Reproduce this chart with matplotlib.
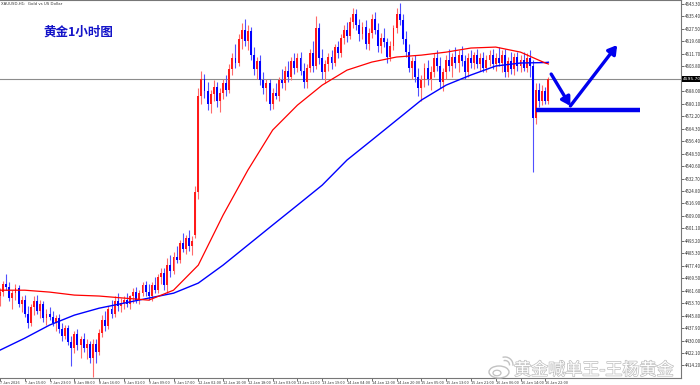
import matplotlib
matplotlib.use('Agg')
import matplotlib.pyplot as plt
import matplotlib.patheffects as pe
from matplotlib.patches import Ellipse, Arc
import numpy as np

plt.rcParams['font.family'] = ['Noto Sans CJK SC', 'DejaVu Sans']

x_labels = ["7 Jan 2026", "7 Jan 15:00", "7 Jan 23:00", "8 Jan 08:00", "8 Jan 16:00",
            "9 Jan 01:00", "9 Jan 09:00", "9 Jan 17:00", "12 Jan 02:00", "12 Jan 10:00",
            "12 Jan 18:00", "13 Jan 03:00", "13 Jan 11:00", "13 Jan 19:00", "14 Jan 04:00",
            "14 Jan 12:00", "14 Jan 20:00", "15 Jan 05:00", "15 Jan 13:00", "15 Jan 21:00",
            "16 Jan 06:00", "16 Jan 14:00", "16 Jan 22:00"]

y_ticks = [4643.30, 4635.40, 4627.50, 4619.60, 4611.70, 4603.80, 4595.90, 4588.00,
           4580.10, 4572.20, 4564.30, 4556.40, 4548.50, 4540.60, 4532.70, 4524.80,
           4516.90, 4509.00, 4501.10, 4493.20, 4485.30, 4477.40, 4469.50, 4461.60,
           4453.70, 4445.80, 4437.90, 4430.00, 4422.10, 4414.20]

opens = [4458, 4461, 4466, 4464, 4457, 4460, 4463, 4453,
         4456, 4447, 4441, 4451, 4455, 4449, 4453, 4444,
         4447, 4445, 4441, 4444, 4437, 4433, 4438, 4429,
         4425, 4434, 4427, 4431, 4425, 4428, 4419, 4428,
         4423, 4435, 4443, 4439, 4450, 4447, 4455, 4452,
         4454, 4456, 4453, 4458, 4461, 4456, 4460, 4465,
         4461, 4458, 4465, 4462, 4470, 4473, 4465, 4478,
         4474, 4483, 4481, 4492, 4488, 4495, 4490, 4497,
         4524, 4585, 4596, 4588, 4580, 4586, 4591, 4582,
         4587, 4593, 4589, 4602, 4609, 4606, 4621, 4627,
         4620, 4626, 4611, 4602, 4607, 4595, 4590, 4593,
         4580, 4587, 4585, 4595, 4593, 4601, 4597, 4607,
         4603, 4609, 4601, 4594, 4603, 4612, 4604, 4628,
         4609, 4600, 4605, 4610, 4606, 4616, 4612, 4622,
         4627, 4623, 4632, 4637, 4630, 4624, 4629, 4618,
         4625, 4634, 4627, 4617, 4622, 4619, 4610, 4617,
         4628, 4637, 4633, 4621, 4613, 4603, 4607, 4597,
         4590, 4595, 4603, 4596, 4600, 4609, 4604, 4594,
         4600, 4608, 4604, 4610, 4606, 4611, 4607, 4600,
         4609, 4606, 4611, 4605, 4609, 4603, 4608, 4611,
         4605, 4609, 4606, 4611, 4600, 4607, 4602, 4610,
         4604, 4608, 4603, 4609, 4604, 4571, 4589, 4582,
         4588, 4582]

highs = [4463, 4468, 4472, 4467, 4462, 4466, 4465, 4458,
         4459, 4452, 4453, 4458, 4459, 4456, 4455, 4450,
         4451, 4449, 4446, 4447, 4441, 4440, 4440, 4433,
         4436, 4437, 4433, 4435, 4431, 4430, 4431, 4431,
         4437, 4446, 4449, 4452, 4456, 4458, 4460, 4457,
         4458, 4460, 4459, 4463, 4464, 4462, 4467, 4468,
         4466, 4467, 4470, 4472, 4476, 4476, 4482, 4484,
         4486, 4490, 4494, 4498, 4497, 4500, 4496, 4528,
         4590, 4601, 4599, 4594, 4589, 4595, 4594, 4590,
         4596, 4598, 4605, 4612, 4618, 4624, 4631, 4634,
         4630, 4629, 4616, 4610, 4611, 4600, 4596, 4596,
         4590, 4593, 4597, 4602, 4604, 4607, 4610, 4612,
         4612, 4613, 4606, 4605, 4615, 4620, 4636, 4631,
         4615, 4608, 4612, 4614, 4618, 4620, 4624, 4630,
         4632, 4635, 4641, 4640, 4634, 4632, 4633, 4628,
         4637, 4638, 4631, 4625, 4628, 4622, 4620, 4630,
         4641, 4644, 4637, 4626, 4618, 4610, 4611, 4603,
         4598, 4606, 4608, 4604, 4612, 4614, 4610, 4603,
         4611, 4615, 4612, 4616, 4614, 4617, 4611, 4612,
         4614, 4613, 4615, 4612, 4613, 4611, 4614, 4615,
         4612, 4616, 4614, 4615, 4610, 4613, 4612, 4613,
         4611, 4613, 4612, 4614, 4608, 4593, 4593, 4592,
         4591, 4597]

lows = [4452, 4458, 4462, 4455, 4450, 4456, 4451, 4448,
        4445, 4438, 4439, 4446, 4447, 4444, 4442, 4440,
        4443, 4439, 4436, 4435, 4430, 4431, 4427, 4414,
        4422, 4424, 4419, 4423, 4418, 4416, 4407, 4416,
        4421, 4432, 4436, 4437, 4444, 4445, 4449, 4448,
        4450, 4451, 4450, 4454, 4454, 4453, 4458, 4458,
        4456, 4455, 4460, 4460, 4466, 4462, 4460, 4470,
        4472, 4479, 4479, 4486, 4485, 4487, 4484, 4495,
        4520, 4580, 4584, 4576, 4574, 4582, 4578, 4575,
        4583, 4585, 4587, 4598, 4603, 4604, 4615, 4617,
        4614, 4608, 4598, 4596, 4592, 4586, 4582, 4576,
        4577, 4583, 4582, 4590, 4589, 4594, 4595, 4599,
        4600, 4598, 4590, 4590, 4600, 4600, 4602, 4605,
        4596, 4593, 4601, 4602, 4604, 4609, 4610, 4618,
        4619, 4621, 4628, 4627, 4620, 4621, 4615, 4614,
        4622, 4624, 4613, 4612, 4616, 4606, 4607, 4614,
        4625, 4630, 4618, 4610, 4600, 4596, 4594, 4585,
        4582, 4591, 4592, 4589, 4597, 4601, 4590, 4588,
        4596, 4601, 4597, 4603, 4600, 4604, 4596, 4597,
        4603, 4602, 4603, 4601, 4600, 4600, 4604, 4602,
        4601, 4604, 4600, 4597, 4597, 4599, 4598, 4601,
        4600, 4601, 4600, 4597, 4537, 4567, 4578, 4579,
        4580, 4580]

closes = [4461, 4466, 4464, 4457, 4460, 4463, 4453, 4456,
          4447, 4441, 4451, 4455, 4449, 4453, 4444, 4447,
          4445, 4441, 4444, 4437, 4433, 4438, 4429, 4425,
          4434, 4427, 4431, 4425, 4428, 4419, 4428, 4423,
          4435, 4443, 4439, 4450, 4447, 4455, 4452, 4454,
          4456, 4453, 4458, 4461, 4456, 4460, 4465, 4461,
          4458, 4465, 4462, 4470, 4473, 4465, 4478, 4474,
          4483, 4481, 4492, 4488, 4495, 4490, 4493, 4524,
          4585, 4596, 4588, 4580, 4586, 4591, 4582, 4587,
          4593, 4589, 4602, 4609, 4606, 4621, 4627, 4620,
          4626, 4611, 4602, 4607, 4595, 4590, 4593, 4580,
          4587, 4585, 4595, 4593, 4601, 4597, 4607, 4603,
          4609, 4601, 4594, 4603, 4612, 4604, 4628, 4609,
          4600, 4605, 4610, 4606, 4616, 4612, 4622, 4627,
          4623, 4632, 4637, 4630, 4624, 4629, 4618, 4625,
          4634, 4627, 4617, 4622, 4619, 4610, 4617, 4628,
          4637, 4633, 4621, 4613, 4603, 4607, 4597, 4590,
          4595, 4603, 4596, 4600, 4609, 4604, 4594, 4600,
          4608, 4604, 4610, 4606, 4611, 4607, 4600, 4609,
          4606, 4611, 4605, 4609, 4603, 4608, 4611, 4605,
          4609, 4606, 4611, 4600, 4607, 4602, 4610, 4604,
          4608, 4603, 4609, 4604, 4571, 4589, 4582, 4588,
          4582, 4595.7]

ma_bars = [0, 8, 16, 24, 32, 40, 48, 56, 64, 72, 80, 88, 96, 104, 112, 120,
           128, 136, 144, 152, 160, 168, 176, 177]
ma_fast = [4461.9, 4461.9, 4460.7, 4458.8, 4458.2, 4456.9, 4455.6, 4461.9,
           4477.8, 4509.5, 4538.0, 4563.4, 4579.2, 4591.9, 4601.4, 4606.5,
           4609.7, 4610.9, 4612.8, 4615.4, 4616.0, 4612.8, 4605.9, 4605.3]
ma_slow = [4423.9, 4431.5, 4439.8, 4446.1, 4450.5, 4453.7, 4456.9, 4460.0,
           4466.4, 4477.8, 4490.5, 4503.2, 4515.8, 4528.5, 4544.4, 4557.0,
           4569.7, 4582.4, 4591.9, 4598.3, 4604.0, 4605.9, 4606.2, 4606.4]

W, H = 700, 385
YMIN, YMAX = 4406.25, 4645.84
fig = plt.figure(figsize=(W / 100, H / 100), dpi=100)
ax = fig.add_axes([0, 7 / H, 681 / W, 378 / H])

n = len(closes)
idx = np.arange(n)
o = np.array(opens, float); c = np.array(closes, float)
h = np.array(highs, float); l = np.array(lows, float)
bull = c >= o
col = np.where(bull, '#ff1a1a', '#0000ff')
wcol = np.where(bull, '#ff6a6a', '#5050ff')
ax.vlines(idx, l, h, colors=wcol, linewidth=0.8, zorder=2)
body = np.maximum(np.abs(c - o), 0.5)
ax.bar(idx, body, bottom=np.minimum(o, c), width=0.62, color=col, linewidth=0, zorder=3)

ax.plot(ma_bars, ma_slow, color='#0000ff', lw=1.0, zorder=4)
ax.plot(ma_bars, ma_fast, color='#ff0000', lw=0.9, zorder=4)

last = closes[-1]
ax.axhline(last, color='#8c8c8c', lw=0.8, zorder=1)

ax.set_xlim(0.6, 219.8)
ax.set_ylim(YMIN, YMAX)

ax.yaxis.tick_right()
ax.set_yticks(y_ticks)
ax.set_yticklabels(['' if abs(v - last) < 3 else f"{v:.2f}" for v in y_ticks])
ax.tick_params(axis='y', labelsize=3.2, length=2, width=0.5, pad=1, colors='#333333')
ax.set_xticks(ma_bars[:-1])
ax.set_xticklabels(x_labels, ha='left')
ax.tick_params(axis='x', labelsize=2.8, length=2, width=0.5, pad=0.5, colors='#333333')
ax.spines['left'].set_visible(False)
for s in ['top', 'right', 'bottom']:
    ax.spines[s].set_color('#777777')
    ax.spines[s].set_linewidth(0.8)

# current price box
ax.text(1.003, (last - YMIN) / (YMAX - YMIN), f"{last:.2f}", transform=ax.transAxes,
        fontsize=3.2, color='white', ha='left', va='center', family='DejaVu Sans',
        bbox=dict(boxstyle='square,pad=0.25', fc='black', ec='none'), clip_on=False, zorder=10)

# arrows / horizontal support
blue = '#0000ee'
ax.plot([173.1, 206.6], [4576.1, 4576.1], color=blue, lw=3.2, solid_capstyle='butt', zorder=6)
ax.annotate('', xy=(184.1, 4578.7), xytext=(177.9, 4598.9),
            arrowprops=dict(arrowstyle='-|>,head_length=0.5,head_width=0.3', color=blue,
                            lw=2.4, shrinkA=0, shrinkB=0), zorder=6)
ax.annotate('', xy=(199.2, 4617.3), xytext=(184.1, 4578.7),
            arrowprops=dict(arrowstyle='-|>,head_length=0.5,head_width=0.3', color=blue,
                            lw=2.4, shrinkA=0, shrinkB=0), zorder=6)

fig.text(1 / W, 1 - 4 / H, "XAUUSD,H1:  Gold vs US Dollar", fontsize=2.8, color='#333333',
         ha='left', va='center', family='DejaVu Sans')
fig.text(43 / W, 1 - 32.5 / H, "黄金1小时图", fontsize=9, fontweight='bold', color='#1414c8',
         ha='left', va='center')

# watermark
gc = '#c2c2c2'
tf = fig.transFigure
fig.add_artist(Ellipse((499 / W, 1 - 372 / H), 20 / W, 12 / H, transform=tf, fc='white', ec=gc, lw=1.0, zorder=20))
fig.add_artist(Ellipse((497 / W, 1 - 373 / H), 8 / W, 5.5 / H, transform=tf, fc='none', ec=gc, lw=0.9, zorder=21))
fig.add_artist(Arc((505 / W, 1 - 365 / H), 9 / W, 9 / H, transform=tf, theta1=-10, theta2=100, ec=gc, lw=1.0, zorder=21))
fig.add_artist(Arc((505 / W, 1 - 365 / H), 16 / W, 16 / H, transform=tf, theta1=-10, theta2=100, ec=gc, lw=1.0, zorder=21))
fig.text(514 / W, 1 - 370 / H, "黄金喊单王-王杨黄金", fontsize=12.3, color='white',
         ha='left', va='center', zorder=22,
         path_effects=[pe.withStroke(linewidth=1.0, foreground='#bdbdbd')])

fig.savefig('out.png', dpi=100)
